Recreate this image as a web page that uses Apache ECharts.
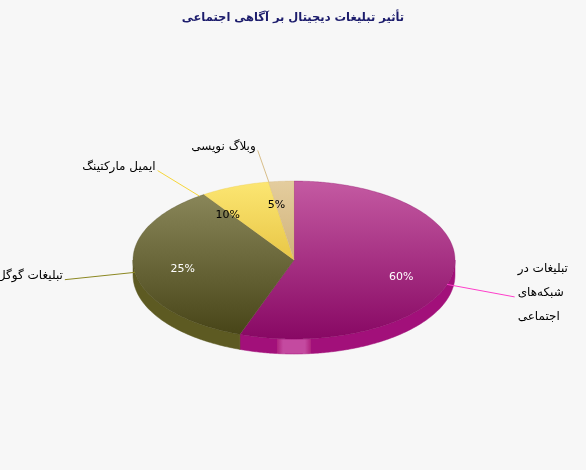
<!DOCTYPE html>
<html>
<head>
<meta charset="utf-8">
<script src="https://cdn.jsdelivr.net/npm/echarts@6/dist/echarts.min.js"></script>
<style>
  html, body { margin: 0; padding: 0; background: #f7f7f7; }
  #chart { width: 586px; height: 470px; }
</style>
</head>
<body>
<div id="chart"></div>
<script>
// slices, clockwise from 12 o'clock
var names = ['تبلیغات در شبکه‌های اجتماعی', 'تبلیغات گوگل', 'ایمیل مارکتینگ', 'وبلاگ نویسی'];
var values = [60, 25, 10, 5];

// colours per slice
var topColors = [['#c45aa2', '#880864'], ['#898659', '#484518'], ['#fce672', '#e8c646'], ['#e4cd9e', '#d0b27a']];
var sideColors = ['#a2107a', '#5d5a22', '#d8b63a', '#c2a26a'];
var lineColors = ['#ff3fcb', '#8c8822', '#f6d63a', '#d8be8a'];
var pctColors = ['#ffffff', '#ffffff', '#000000', '#000000'];

// 3d pie geometry (px)
var CX = 294, CY = 260, RX = 161, RY = 79, DEPTH = 15;
var LX = 232, LY = 113, LCY = 262;   // outer label ellipse
var FONT = '"DejaVu Sans", sans-serif';
var LABEL_FONT = '12px ' + FONT;
var WRAP_WIDTH = 70;

var total = values.reduce(function (a, b) { return a + b; }, 0);
var starts = [];
var acc = 0;
values.forEach(function (v) { starts.push(acc); acc += v; });

// word wrap for the labels on the right
var measureCtx = document.createElement('canvas').getContext('2d');
function wrapWords(text, maxW) {
  measureCtx.font = LABEL_FONT;
  var words = text.split(' ');
  var lines = [];
  var cur = '';
  words.forEach(function (w) {
    var next = cur ? cur + ' ' + w : w;
    if (cur && measureCtx.measureText(next).width > maxW) {
      lines.push(cur);
      cur = w;
    } else {
      cur = next;
    }
  });
  if (cur) lines.push(cur);
  return lines.join('\n');
}

// point on rim at screen angle phi (deg, clockwise from top)
function rim(phi, dy) {
  var a = phi * Math.PI / 180, s = Math.sin(a), c = Math.cos(a);
  var r = 1 / Math.sqrt(s * s / (RX * RX) + c * c / (RY * RY));
  return [CX + r * s, CY - r * c + (dy || 0)];
}

function arcPoints(a0, a1, dy) {
  var pts = [];
  var n = Math.max(2, Math.ceil(Math.abs(a1 - a0)));
  for (var i = 0; i <= n; i++) {
    pts.push(rim(a0 + (a1 - a0) * i / n, dy));
  }
  return pts;
}

function renderSlice(params, api) {
  var i = params.dataIndex;
  var v = api.value(0);
  var a0 = starts[i] / total * 360;
  var a1 = (starts[i] + v) / total * 360;
  var children = [];

  // side wall on the front half
  var s0 = Math.max(a0, 90), s1 = Math.min(a1, 270);
  if (s1 > s0) {
    var edge = arcPoints(s0, s1, 0);
    var low = arcPoints(s1, s0, DEPTH);
    children.push({
      type: 'polygon',
      z2: 1,
      shape: { points: edge.concat(low) },
      style: {
        fill: i === 0 ? new echarts.graphic.LinearGradient(277, 0, 311, 0, [
          { offset: 0, color: sideColors[i] },
          { offset: 0.01, color: '#b0247f' },
          { offset: 0.18, color: '#c44aa0' },
          { offset: 0.82, color: '#c44aa0' },
          { offset: 0.99, color: '#b0247f' },
          { offset: 1, color: sideColors[i] }
        ], true) : sideColors[i],
        stroke: sideColors[i],
        lineWidth: 0.5
      }
    });
  }

  // top face
  children.push({
    type: 'polygon',
    z2: 2,
    shape: { points: [[CX, CY]].concat(arcPoints(a0, a1, 0)) },
    style: {
      fill: new echarts.graphic.LinearGradient(0, 0, 0, 1, [
        { offset: 0, color: topColors[i][0] },
        { offset: 1, color: topColors[i][1] }
      ]),
      stroke: topColors[i][1],
      lineWidth: 0.3
    }
  });

  // labels sit at the mid angle of the ellipse
  var t = (a0 + a1) / 2 * Math.PI / 180;
  var st = Math.sin(t), ct = Math.cos(t);
  var anchor = [CX + RX * st, CY - RY * ct];
  var end = [CX + LX * st, LCY - LY * ct];
  var right = st > 0;

  children.push({
    type: 'polyline',
    z2: 3,
    shape: { points: [anchor, end] },
    style: { stroke: lineColors[i], lineWidth: 1, fill: null }
  });

  children.push({
    type: 'text',
    z2: 4,
    x: end[0] + (right ? 3 : -2),
    y: end[1] - 4,
    style: {
      text: right ? wrapWords(names[i], WRAP_WIDTH) : names[i],
      font: LABEL_FONT,
      fill: '#000',
      align: right ? 'left' : 'right',
      verticalAlign: 'middle',
      lineHeight: 24
    }
  });

  children.push({
    type: 'text',
    z2: 4,
    x: CX + RX * 0.7 * st,
    y: CY - RY * 0.7 * ct,
    style: {
      text: Math.round(v / total * 100) + '%',
      font: '11px ' + FONT,
      fill: pctColors[i],
      align: 'center',
      verticalAlign: 'middle'
    }
  });

  return { type: 'group', children: children };
}

var chartDom = document.getElementById('chart');
var chart = echarts.init(chartDom);
var option = {
  backgroundColor: '#f7f7f7',
  animation: false,
  title: {
    text: 'تأثیر تبلیغات دیجیتال بر آگاهی اجتماعی',
    left: 'center',
    top: 7,
    textStyle: { fontFamily: FONT, fontSize: 11.5, fontWeight: 'bold', color: '#1c1c6c' }
  },
  series: [
    {
      type: 'custom',
      coordinateSystem: 'none',
      renderItem: renderSlice,
      data: values.map(function (v, i) { return [v, i]; })
    }
  ]
};
chart.setOption(option);
window.addEventListener('resize', function () {
  chart.resize();
});
</script>
</body>
</html>
